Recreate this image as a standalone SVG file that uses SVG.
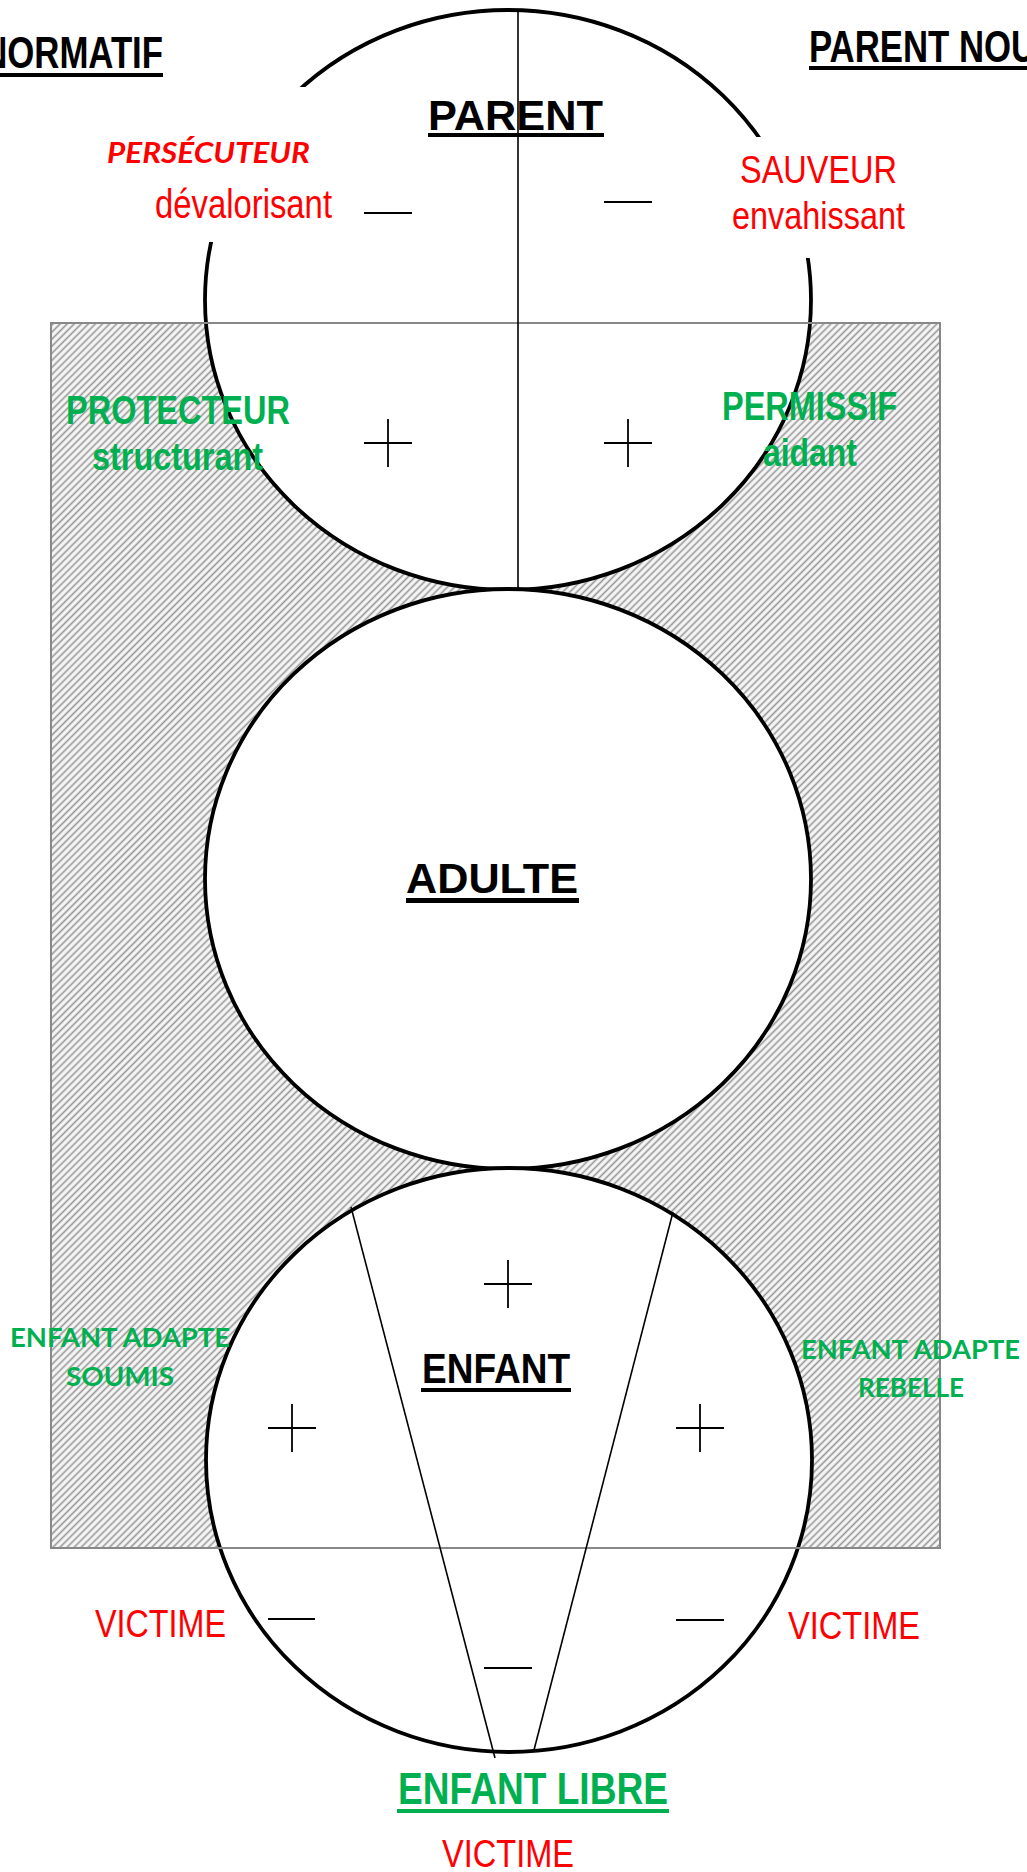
<svg xmlns="http://www.w3.org/2000/svg" width="1027" height="1872" viewBox="0 0 1027 1872">
  <defs>
    <pattern id="hatch" patternUnits="userSpaceOnUse" width="5" height="5" patternTransform="rotate(45)">
      <rect width="5" height="5" fill="#f7f7f7"/>
      <line x1="1.5" y1="0" x2="1.5" y2="5" stroke="#959595" stroke-width="1.6"/>
    </pattern>
    <style>
      .circ { fill: #ffffff; stroke: #000000; stroke-width: 3.8; }
      .thin { stroke: #000000; stroke-width: 1.6; fill: none; }
      .sign { stroke: #000000; stroke-width: 1.8; fill: none; }
      .frame { fill: none; stroke: #888888; stroke-width: 2; }
      .narrow { font-family: "Liberation Sans", Arial, sans-serif; }
      .bold { font-weight: bold; }
      .cal { font-family: Lato, "Liberation Sans", sans-serif; font-weight: bold; }
      .red { fill: #ff0000; }
      .green { fill: #00b050; }
      .black { fill: #000000; }
    </style>
  </defs>

  <rect width="1027" height="1872" fill="#ffffff"/>

  <!-- hatched zone -->
  <rect id="zone" x="51" y="323" width="889" height="1225" fill="url(#hatch)"/>

  <!-- circles -->
  <g id="node-parent">
    <ellipse class="circ" cx="508" cy="300" rx="303" ry="290"/>
  </g>
  <g id="node-adulte">
    <ellipse class="circ" cx="508" cy="879" rx="303" ry="290"/>
  </g>
  <g id="node-enfant">
    <ellipse class="circ" cx="509" cy="1460" rx="303" ry="292"/>
  </g>

  <!-- frame outline drawn over circles -->
  <rect class="frame" x="51" y="323" width="889" height="1225"/>

  <!-- white label boxes masking arcs -->
  <rect x="100" y="87" width="240" height="155" fill="#ffffff"/>
  <rect x="712" y="137" width="250" height="121" fill="#ffffff"/>

  <!-- dividing lines -->
  <g id="connectors">
    <line class="thin" x1="518" y1="10" x2="518" y2="590"/>
    <line class="thin" x1="351" y1="1207" x2="495" y2="1758"/>
    <line class="thin" x1="673" y1="1212" x2="534" y2="1750"/>
  </g>

  <!-- signs -->
  <g id="signs">
    <line class="sign" x1="364" y1="213" x2="412" y2="213"/>
    <line class="sign" x1="604" y1="202" x2="652" y2="202"/>
    <path class="sign" d="M364 443 H412 M388 419 V467"/>
    <path class="sign" d="M604 443 H652 M628 419 V467"/>
    <path class="sign" d="M484 1284 H532 M508 1260 V1308"/>
    <path class="sign" d="M268 1428 H316 M292 1404 V1452"/>
    <path class="sign" d="M676 1428 H724 M700 1404 V1452"/>
    <line class="sign" x1="268" y1="1619" x2="315" y2="1619"/>
    <line class="sign" x1="676" y1="1620" x2="724" y2="1620"/>
    <line class="sign" x1="484" y1="1668" x2="532" y2="1668"/>
  </g>

  <!-- titles -->
  <g id="title-normatif">
    <text class="narrow bold black" font-size="44" text-anchor="end" transform="translate(163,68) scale(0.79,1)">PARENT NORMATIF</text>
    <rect x="-10" y="73" width="173" height="4" fill="#000000"/>
  </g>
  <g id="title-nourricier">
    <text class="narrow bold black" font-size="44" transform="translate(809,62) scale(0.79,1)">PARENT NOURRICIER</text>
    <rect x="809" y="66" width="230" height="4" fill="#000000"/>
  </g>

  <g id="label-parent">
    <text class="narrow bold black" x="428" y="130" font-size="43" textLength="175" lengthAdjust="spacingAndGlyphs">PARENT</text>
    <rect x="428" y="133" width="176" height="4" fill="#000000"/>
  </g>

  <g id="label-persecuteur">
    <text class="cal red" x="107" y="163" font-size="29" font-style="italic" textLength="203" lengthAdjust="spacingAndGlyphs">PERSÉCUTEUR</text>
    <text class="narrow red" x="155" y="218" font-size="40" textLength="177" lengthAdjust="spacingAndGlyphs">dévalorisant</text>
  </g>
  <g id="label-sauveur">
    <text class="narrow red" x="740" y="183" font-size="39" textLength="157" lengthAdjust="spacingAndGlyphs">SAUVEUR</text>
    <text class="narrow red" x="732" y="229" font-size="39" textLength="173" lengthAdjust="spacingAndGlyphs">envahissant</text>
  </g>
  <g id="label-protecteur">
    <text class="narrow bold green" x="66" y="424" font-size="40" textLength="224" lengthAdjust="spacingAndGlyphs">PROTECTEUR</text>
    <text class="narrow bold green" x="92" y="470" font-size="39" textLength="171" lengthAdjust="spacingAndGlyphs">structurant</text>
  </g>
  <g id="label-permissif">
    <text class="narrow bold green" x="722" y="420" font-size="40" textLength="175" lengthAdjust="spacingAndGlyphs">PERMISSIF</text>
    <text class="narrow bold green" x="763" y="466" font-size="39" textLength="94" lengthAdjust="spacingAndGlyphs">aidant</text>
  </g>

  <g id="label-adulte">
    <text class="narrow bold black" x="406" y="893" font-size="43" textLength="172" lengthAdjust="spacingAndGlyphs">ADULTE</text>
    <rect x="406" y="898" width="173" height="5" fill="#000000"/>
  </g>

  <g id="label-enfant">
    <text class="narrow bold black" x="422" y="1383" font-size="42" textLength="148" lengthAdjust="spacingAndGlyphs">ENFANT</text>
    <rect x="421" y="1388" width="150" height="4" fill="#000000"/>
  </g>

  <g id="label-soumis">
    <text class="cal green" x="10" y="1347" font-size="26" textLength="220" lengthAdjust="spacingAndGlyphs">ENFANT ADAPTE</text>
    <text class="cal green" x="66" y="1386" font-size="26" textLength="108" lengthAdjust="spacingAndGlyphs">SOUMIS</text>
  </g>
  <g id="label-rebelle">
    <text class="cal green" x="801" y="1359" font-size="26" textLength="219" lengthAdjust="spacingAndGlyphs">ENFANT ADAPTE</text>
    <text class="cal green" x="858" y="1397" font-size="26" textLength="106" lengthAdjust="spacingAndGlyphs">REBELLE</text>
  </g>

  <g id="label-victimes">
    <text class="narrow red" x="95" y="1637" font-size="39" textLength="131" lengthAdjust="spacingAndGlyphs">VICTIME</text>
    <text class="narrow red" x="788" y="1639" font-size="39" textLength="132" lengthAdjust="spacingAndGlyphs">VICTIME</text>
  </g>

  <g id="label-libre">
    <text class="narrow bold green" x="398" y="1804" font-size="44" textLength="270" lengthAdjust="spacingAndGlyphs">ENFANT LIBRE</text>
    <rect x="397" y="1809" width="272" height="4" fill="#00b050"/>
    <text class="narrow red" x="442" y="1867" font-size="39" textLength="132" lengthAdjust="spacingAndGlyphs">VICTIME</text>
  </g>
</svg>
